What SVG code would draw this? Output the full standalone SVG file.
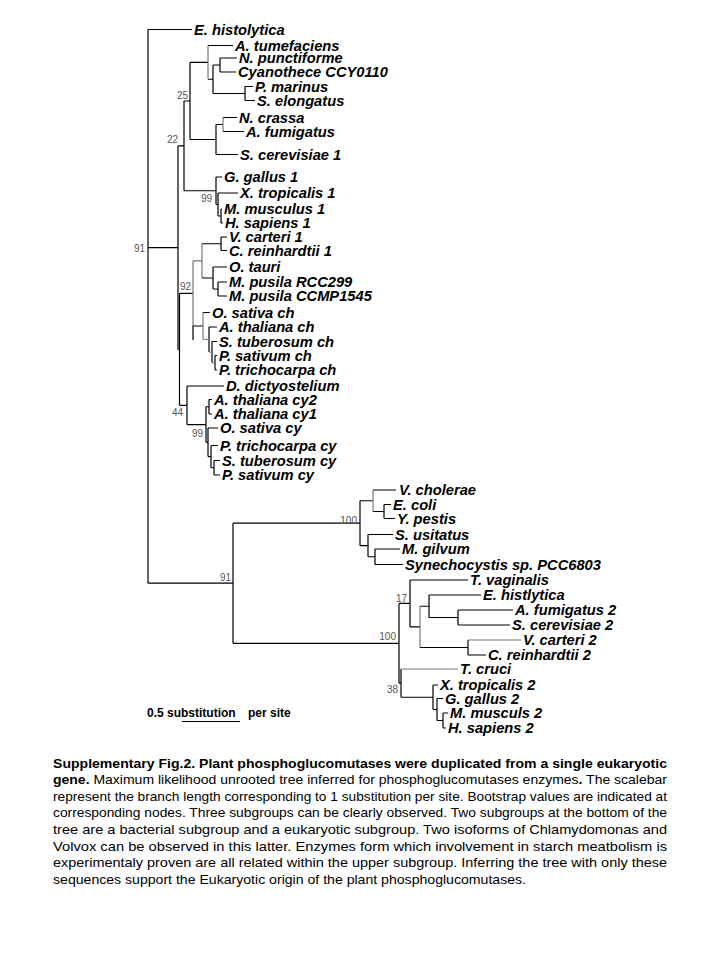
<svg xmlns="http://www.w3.org/2000/svg" width="720" height="960" viewBox="0 0 720 960">
<style>
.br{fill:none;stroke:#000;stroke-width:1.2}
.gr{fill:none;stroke:#777;stroke-width:1.2}
.tx{font-family:"Liberation Sans",Arial,sans-serif;font-size:14.7px;font-weight:bold;font-style:italic;fill:#000}
.bs{font-family:"Liberation Sans",Arial,sans-serif;font-size:10px;fill:#555;text-anchor:end}
.sc{font-family:"Liberation Sans",Arial,sans-serif;font-size:12px;font-weight:bold;fill:#000}
.cap{font-family:"Liberation Sans",Arial,sans-serif;font-size:13.5px;fill:#000}
.b{font-weight:bold}
</style>
<rect width="720" height="960" fill="#fff"/>
<g id="connectors">
<path class="br" d="M148 29.5V583.2M148 29.5H192M148 247.6H178M148 583.2H233"/>
<path class="br" d="M178 145.9V349.4M178 145.9H184M184 101V190.75M184 101H190M190 62.4V139.5"/>
<path class="br" d="M190 62.4H208M208 79.25H213M208 45.5H233"/>
<path class="gr" d="M208 45.5V79.25"/>
<path class="br" d="M213 65V93.5M213 65H220M220 58V72M220 58H237M220 72H236"/>
<path class="br" d="M213 93.5H245M245 86.5V100.5M245 86.5H253M245 100.5H255"/>
<path class="br" d="M190 139.5H216M216 124.5V154.5M216 154.5H238M216 124.5H223M223 117.5H237M223 131.5H244"/>
<path class="gr" d="M223 117.5V131.5"/>
<path class="br" d="M184 190.75H216M216 177V204.5M216 177H222M216 204.5H218M218 193V216M218 193H238M218 216H221M221 209V223M221 209H222M221 223H223"/>
<path class="br" d="M179.5 293.4V405.3M178 349.4H179.5"/>
<path class="br" d="M179.5 293.4H193M193 326V340"/>
<path class="gr" d="M193 260.9V326M193 260.9H202M202 243.75V278"/>
<path class="br" d="M202 243.75H221M221 237V250.5M221 237H227M221 250.5H227"/>
<path class="br" d="M202 278H213M213 267V289M213 267H227M213 289H218M218 282V296M218 282H227M218 296H227"/>
<path class="br" d="M193 326H203M203 312.5H210M209 327V352M209 327H217M212 341.5V362.75M212 341.5H217M215 355.5V370M215 355.5H217M215 370H217"/>
<path class="gr" d="M203 312.5V339.5M203 339.5H209M209 352H212M212 362.75H215"/>
<path class="br" d="M179.5 405.3H187M187 386V424.6M187 386H224M187 424.6H206M206 406.75V442.3"/>
<path class="br" d="M206 406.75H209M209 399.5V414M209 399.5H212M209 414H212"/>
<path class="br" d="M206 442.3H208M208 428V456.6M208 428H218M208 456.6H211M211 445.5V467.75M211 445.5H218M211 467.75H214M214 460.5V475M214 460.5H220M214 475H220"/>
<path class="br" d="M233 523.2V643.3M233 523.2H360M360 500.75V545.6"/>
<path class="br" d="M360 500.75H373M373 490H396M373 511.5H384M384 504.5V518.5M384 504.5H391M384 518.5H395"/>
<path class="gr" d="M373 490V511.5"/>
<path class="br" d="M360 545.6H368M368 534.5V556.75M368 534.5H393M368 556.75H375M375 549V564.5M375 549H400M375 564.5H403"/>
<path class="br" d="M233 643.3H399M399 603.4V683.1M399 603.4H410M410 580V626.9M410 580H468"/>
<path class="br" d="M410 626.9H420M420 606.25H429M429 595V617.5M429 595H481M429 617.5H458M458 610V625M458 610H513M458 625H510"/>
<path class="gr" d="M420 606.25V647.5"/>
<path class="br" d="M420 647.5H468M468 640V655M468 655H486"/>
<path class="gr" d="M468 640H521"/>
<path class="br" d="M399 683.1H401M401 669V697.25M401 697.25H433M433 685V709.5M433 685H438M433 709.5H437M437 698.5V720.5M437 698.5H443M437 720.5H443M443 713V728M443 713H448M443 728H446"/>
<path class="gr" d="M401 669H458"/>
</g>
<g id="leaves">
<g id="n-e-histolytica"><text class="tx" x="194" y="34.5">E. histolytica</text></g>
<g id="n-a-tumefaciens"><text class="tx" x="235" y="50.5">A. tumefaciens</text></g>
<g id="n-n-punctiforme"><text class="tx" x="239" y="63">N. punctiforme</text></g>
<g id="n-cyanothece"><text class="tx" x="238" y="77">Cyanothece CCY0110</text></g>
<g id="n-p-marinus"><text class="tx" x="255" y="91.5">P. marinus</text></g>
<g id="n-s-elongatus"><text class="tx" x="257" y="105.5">S. elongatus</text></g>
<g id="n-n-crassa"><text class="tx" x="239" y="122.5">N. crassa</text></g>
<g id="n-a-fumigatus"><text class="tx" x="246" y="136.5">A. fumigatus</text></g>
<g id="n-s-cerevisiae-1"><text class="tx" x="240" y="159.5">S. cerevisiae 1</text></g>
<g id="n-g-gallus-1"><text class="tx" x="224" y="182">G. gallus 1</text></g>
<g id="n-x-tropicalis-1"><text class="tx" x="240" y="198">X. tropicalis 1</text></g>
<g id="n-m-musculus-1"><text class="tx" x="224" y="214">M. musculus 1</text></g>
<g id="n-h-sapiens-1"><text class="tx" x="225" y="228">H. sapiens 1</text></g>
<g id="n-v-carteri-1"><text class="tx" x="229" y="242">V. carteri 1</text></g>
<g id="n-c-reinhardtii-1"><text class="tx" x="229" y="255.5">C. reinhardtii 1</text></g>
<g id="n-o-tauri"><text class="tx" x="229" y="272">O. tauri</text></g>
<g id="n-m-pusila-rcc299"><text class="tx" x="229" y="287">M. pusila RCC299</text></g>
<g id="n-m-pusila-ccmp1545"><text class="tx" x="229" y="301">M. pusila CCMP1545</text></g>
<g id="n-o-sativa-ch"><text class="tx" x="212" y="317.5">O. sativa ch</text></g>
<g id="n-a-thaliana-ch"><text class="tx" x="219" y="332">A. thaliana ch</text></g>
<g id="n-s-tuberosum-ch"><text class="tx" x="219" y="346.5">S. tuberosum ch</text></g>
<g id="n-p-sativum-ch"><text class="tx" x="219" y="360.5">P. sativum ch</text></g>
<g id="n-p-trichocarpa-ch"><text class="tx" x="219" y="375">P. trichocarpa ch</text></g>
<g id="n-d-dictyostelium"><text class="tx" x="226" y="391">D. dictyostelium</text></g>
<g id="n-a-thaliana-cy2"><text class="tx" x="214" y="404.5">A. thaliana cy2</text></g>
<g id="n-a-thaliana-cy1"><text class="tx" x="214" y="419">A. thaliana cy1</text></g>
<g id="n-o-sativa-cy"><text class="tx" x="220" y="433">O. sativa cy</text></g>
<g id="n-p-trichocarpa-cy"><text class="tx" x="220" y="450.5">P. trichocarpa cy</text></g>
<g id="n-s-tuberosum-cy"><text class="tx" x="222" y="465.5">S. tuberosum cy</text></g>
<g id="n-p-sativum-cy"><text class="tx" x="222" y="480">P. sativum cy</text></g>
<g id="n-v-cholerae"><text class="tx" x="399" y="495">V. cholerae</text></g>
<g id="n-e-coli"><text class="tx" x="393" y="509.5">E. coli</text></g>
<g id="n-y-pestis"><text class="tx" x="397" y="523.5">Y. pestis</text></g>
<g id="n-s-usitatus"><text class="tx" x="395" y="539.5">S. usitatus</text></g>
<g id="n-m-gilvum"><text class="tx" x="402" y="554">M. gilvum</text></g>
<g id="n-synechocystis"><text class="tx" x="405" y="569.5">Synechocystis sp. PCC6803</text></g>
<g id="n-t-vaginalis"><text class="tx" x="470" y="585">T. vaginalis</text></g>
<g id="n-e-histlytica"><text class="tx" x="483" y="600">E. histlytica</text></g>
<g id="n-a-fumigatus-2"><text class="tx" x="515" y="615">A. fumigatus 2</text></g>
<g id="n-s-cerevisiae-2"><text class="tx" x="512" y="630">S. cerevisiae 2</text></g>
<g id="n-v-carteri-2"><text class="tx" x="523" y="645">V. carteri 2</text></g>
<g id="n-c-reinhardtii-2"><text class="tx" x="488" y="660">C. reinhardtii 2</text></g>
<g id="n-t-cruci"><text class="tx" x="460" y="674">T. cruci</text></g>
<g id="n-x-tropicalis-2"><text class="tx" x="440" y="690">X. tropicalis 2</text></g>
<g id="n-g-gallus-2"><text class="tx" x="445" y="703.5">G. gallus 2</text></g>
<g id="n-m-musculs-2"><text class="tx" x="450" y="718">M. musculs 2</text></g>
<g id="n-h-sapiens-2"><text class="tx" x="448" y="733">H. sapiens 2</text></g>
</g>
<g id="bootstrap">
<text class="bs" x="188" y="98.5">25</text>
<text class="bs" x="178" y="142.5">22</text>
<text class="bs" x="212" y="202">99</text>
<text class="bs" x="145" y="251.5">91</text>
<text class="bs" x="191" y="290">92</text>
<text class="bs" x="183" y="416">44</text>
<text class="bs" x="203" y="437">99</text>
<text class="bs" x="357" y="523.5">100</text>
<text class="bs" x="231" y="580.5">91</text>
<text class="bs" x="407" y="601.5">17</text>
<text class="bs" x="396" y="640">100</text>
<text class="bs" x="398" y="692.5">38</text>
</g>
<g id="scale">
<text class="sc" x="147" y="717">0.5 substitution</text>
<text class="sc" x="248" y="717">per site</text>
<path class="br" d="M182 721.5H240"/>
</g>
<g id="caption">
<text class="cap b" x="53" y="767.5" textLength="614" lengthAdjust="spacingAndGlyphs">Supplementary Fig.2. Plant phosphoglucomutases were duplicated from a single eukaryotic</text>
<text class="cap" x="53" y="784.1" textLength="614" lengthAdjust="spacingAndGlyphs"><tspan class="b">gene.</tspan>  Maximum likelihood unrooted tree inferred for phosphoglucomutases enzymes<tspan class="b">.</tspan> The scalebar</text>
<text class="cap" x="53" y="800.7" textLength="614" lengthAdjust="spacingAndGlyphs">represent the branch length corresponding to 1 substitution per site. Bootstrap values are indicated at</text>
<text class="cap" x="53" y="817.3" textLength="614" lengthAdjust="spacingAndGlyphs">corresponding nodes. Three subgroups can be clearly observed. Two subgroups at the bottom of the</text>
<text class="cap" x="53" y="833.9" textLength="614" lengthAdjust="spacingAndGlyphs">tree are a bacterial subgroup and a eukaryotic subgroup. Two isoforms of Chlamydomonas and</text>
<text class="cap" x="53" y="850.5" textLength="614" lengthAdjust="spacingAndGlyphs">Volvox can be observed in this latter. Enzymes form which involvement in starch meatbolism is</text>
<text class="cap" x="53" y="867.1" textLength="614" lengthAdjust="spacingAndGlyphs">experimentaly proven are all related within the upper subgroup. Inferring the tree with only these</text>
<text class="cap" x="53" y="883.7" textLength="473" lengthAdjust="spacingAndGlyphs">sequences support the Eukaryotic origin of the plant phosphoglucomutases.</text>
</g>
</svg>
